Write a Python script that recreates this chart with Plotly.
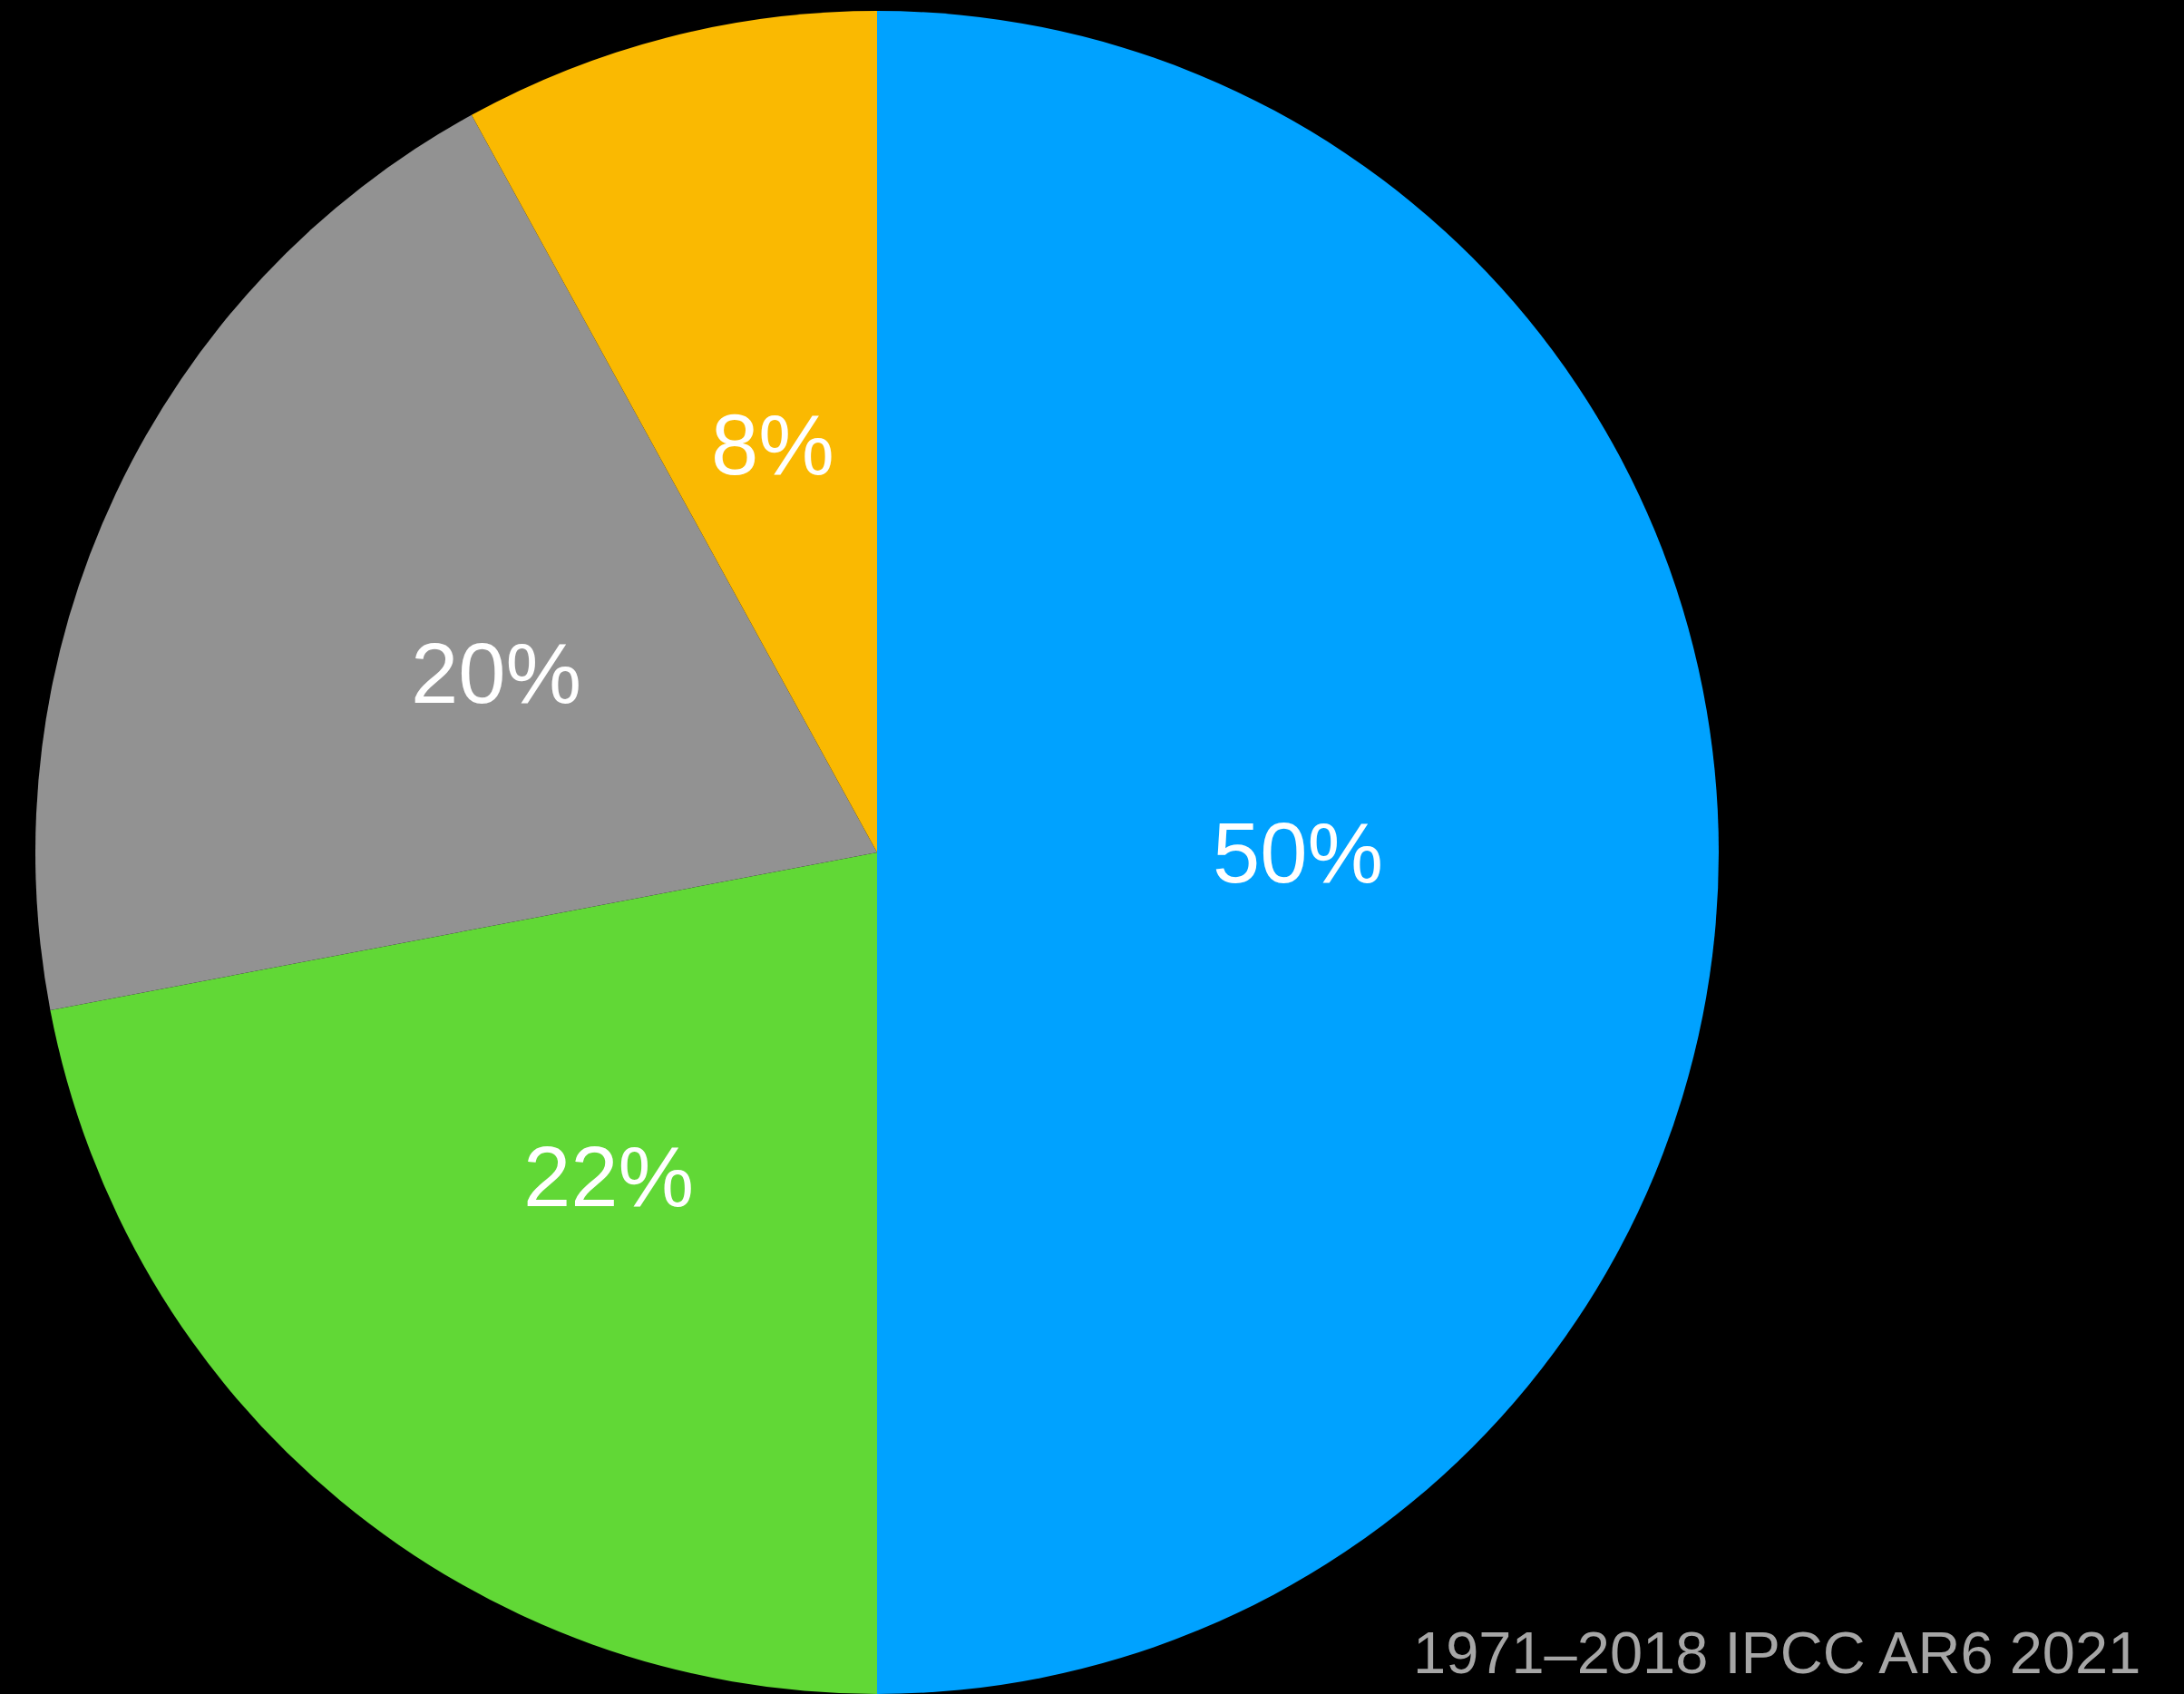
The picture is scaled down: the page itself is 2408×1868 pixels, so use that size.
import math
import plotly.graph_objects as go

# Shares of the four components (percent), drawn clockwise from 12 o'clock
labels = ["Component A", "Component B", "Component C", "Component D"]
shares = [50, 22, 20, 8]
colors = ["#00A2FF", "#61D836", "#929292", "#FAB901"]
footer = "1971–2018 IPCC AR6 2021"

W, H = 2408, 1868
top_gap = 12
cx_frac = 967 / W

plot_h = H - top_gap
radius_px = plot_h / 2
half_w = radius_px / W
dom_x = [cx_frac - half_w, cx_frac + half_w]
dom_y = [0, plot_h / H]

fig = go.Figure(
    go.Pie(
        labels=labels,
        values=shares,
        sort=False,
        direction="clockwise",
        rotation=0,
        marker=dict(colors=colors, line=dict(width=0)),
        textinfo="none",
        hoverinfo="label+percent",
        showlegend=False,
        domain=dict(x=dom_x, y=dom_y),
    )
)

# Percentage labels at half radius along each slice's middle angle
cx_px = cx_frac * W
cy_px = top_gap + radius_px
total = sum(shares)
start = 0.0
annotations = []
for v in shares:
    mid = (start + v / 2) / total * 2 * math.pi
    start += v
    px = cx_px + 0.5 * radius_px * math.sin(mid)
    py = cy_px - 0.5 * radius_px * math.cos(mid)
    annotations.append(
        dict(
            x=px / W, y=1 - py / H, xref="paper", yref="paper",
            text=f"{v}%", showarrow=False,
            xanchor="center", yanchor="middle",
            font=dict(family="Liberation Sans, Arial, sans-serif", size=94, color="#FFFFFF"),
        )
    )

annotations.append(
    dict(
        x=2362 / W, y=1 - 1822 / H, xref="paper", yref="paper",
        text=footer, showarrow=False,
        xanchor="right", yanchor="middle",
        font=dict(family="Liberation Sans, Arial, sans-serif", size=65, color="#A6A6A6"),
    )
)

fig.update_layout(
    width=W, height=H,
    margin=dict(l=0, r=0, t=0, b=0),
    paper_bgcolor="#000000",
    plot_bgcolor="#000000",
    annotations=annotations,
)

fig.write_html("out.html")
